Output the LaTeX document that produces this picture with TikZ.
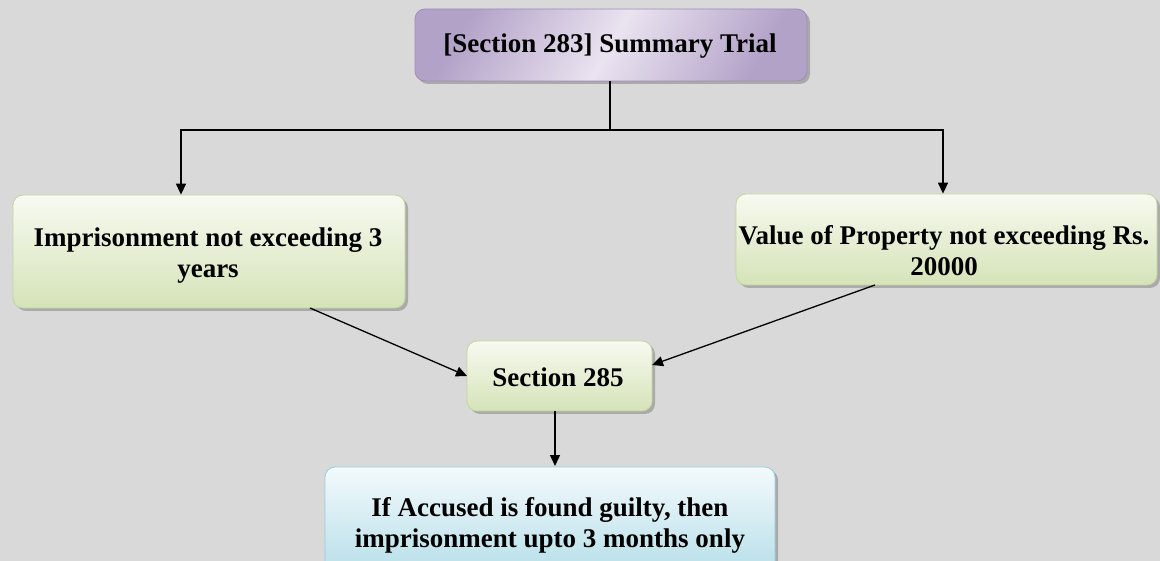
\documentclass[tikz,border=0pt]{standalone}
\usepackage{fontspec}
\setmainfont{Liberation Serif}
\usetikzlibrary{arrows.meta,shadows,calc}
\definecolor{bg}{HTML}{D9D9D9}
\definecolor{gtop}{HTML}{F7FAF0}
\definecolor{gbot}{HTML}{D5E3B8}
\definecolor{gline}{HTML}{C3D69B}
\definecolor{btop}{HTML}{F3FAFC}
\definecolor{bbot}{HTML}{B4DDE8}
\definecolor{bline}{HTML}{93CDDD}
\definecolor{ptop}{HTML}{EAE3F0}
\definecolor{pbot}{HTML}{B3A2C8}
\definecolor{pline}{HTML}{A08CB8}
\tikzset{
  box/.style={rounded corners=10pt, line width=0.8pt, inner sep=0pt,
    drop shadow={shadow xshift=3pt, shadow yshift=-3pt, fill=black!45, opacity=0.6}},
  greenbox/.style={box, draw=gline, top color=gtop, bottom color=gbot},
  bluebox/.style={box, draw=bline, top color=btop, bottom color=bbot},
  purplebox/.style={box, draw=pline, shading=axis, left color=pbot, right color=pbot, middle color=ptop, shading angle=60},
  lbl/.style={font=\bfseries\fontsize{27}{31}\selectfont, align=center, text=black},
  conn/.style={line width=1.3pt, black},
  arr/.style={conn, -{Triangle[length=11pt,width=10pt]}}
}
\begin{document}
\begin{tikzpicture}[x=1pt,y=-1pt]
\fill[bg] (0,0) rectangle (1160,561);
\clip (0,0) rectangle (1160,561);
\useasboundingbox (0,0) rectangle (1160,561);
% boxes
\node[purplebox, minimum width=392pt, minimum height=72pt] (top) at (611,45) {};
\node[lbl] (toptxt) at (610,46) {[Section 283] Summary Trial};
\node[greenbox, minimum width=392pt, minimum height=113pt] (left) at (209,251.5) {};
\node[lbl] (lefttxt) at (208,255.5) {Imprisonment not exceeding 3\\years};
\node[greenbox, minimum width=421pt, minimum height=91pt] (right) at (946.5,239.5) {};
\node[lbl] (righttxt) at (944,250.5) {Value of Property not exceeding Rs.\\20000};
\node[greenbox, minimum width=185pt, minimum height=70pt] (s285) at (559.5,376) {};
\node[lbl] (s285txt) at (558,377) {Section 285};
\node[bluebox, minimum width=450pt, minimum height=112pt] (bot) at (550,523) {};
\node[lbl] (bottxt) at (550,525) {If Accused is found guilty, then\\imprisonment upto 3 months only};
% connectors
\coordinate (jt) at (610,130);
\coordinate (jl) at (181,130);
\coordinate (jr) at (943,130);
\draw[conn] (top.south -| jt) -- (jt);
\draw[arr] (jt) -- (jl) -- (jl |- left.north);
\draw[arr] (jt) -- (jr) -- (jr |- right.north);
\coordinate (la) at (310,308);
\coordinate (lb) at (467,376);
\coordinate (ra) at (875,285);
\coordinate (rb) at (652,365);
\draw[arr] (la) -- (lb);
\draw[arr] (ra) -- (rb);
\draw[arr] (s285.south -| 555,0) -- (555,466);
\end{tikzpicture}
\end{document}
